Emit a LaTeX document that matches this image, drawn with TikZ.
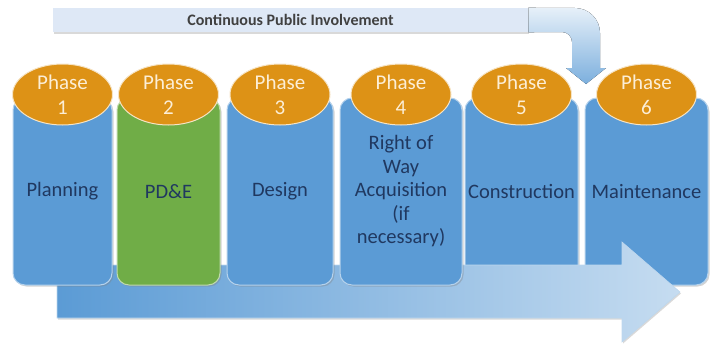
\documentclass[tikz,border=0pt]{standalone}
\usepackage{fontspec}
\setmainfont{Carlito}
\usepackage{tikz}
\usetikzlibrary{shapes.geometric,shadows}
\definecolor{colblue}{RGB}{91,155,213}
\definecolor{colgreen}{RGB}{112,173,71}
\definecolor{phaseorange}{RGB}{221,146,22}
\definecolor{labelblue}{RGB}{32,56,96}
\definecolor{paleblue}{RGB}{222,232,246}

\begin{document}
\begin{tikzpicture}[x=1pt,y=-1pt,semithick,
  col/.style={draw=white!55!colblue, line width=1pt, fill=colblue, rounded corners=12pt,
    minimum height=187pt, inner sep=0pt, align=center, text=labelblue,
    font=\fontsize{20.5}{23.5}\selectfont,
    drop shadow={shadow xshift=1.5pt,shadow yshift=-1.5pt,opacity=0.35}},
  phase/.style={ellipse, draw=white!75!phaseorange, line width=1pt, fill=phaseorange,
    minimum width=100pt, minimum height=61pt, inner sep=0pt, yshift=3pt, align=center,
    text={rgb,255:red,252;green,238;blue,214}, font=\fontsize{21}{25}\selectfont}]
  \useasboundingbox (0,0) rectangle (715,343);

  \node[fill=paleblue, minimum width=475pt, minimum height=24pt, inner sep=0pt,
    drop shadow={shadow xshift=1pt,shadow yshift=-1.5pt,opacity=0.3},
    font=\bfseries\fontsize{16}{19}\selectfont, text={rgb,255:red,64;green,64;blue,64}]
    (CPI) at (290.5,20) {Continuous Public Involvement};
  \fill[top color=white!85!colblue, bottom color=white!20!colblue]
    (CPI.north east) -- (575,8) arc[start angle=90, end angle=0, radius=25pt]
    -- (600,68) -- (606,68) -- (586,84) -- (566,68) -- (572,68) -- (572,42)
    arc[start angle=0, end angle=90, radius=10pt] -- (CPI.south east) -- cycle;

  \node[col, minimum width=113pt] (P5) at (521.5,191.5) {Construction};
  \node[col, minimum width=123pt] (P6) at (646.5,191.5) {Maintenance};

  \shade[left color=colblue, right color=white!65!colblue, draw=white!60!colblue,
    drop shadow={shadow xshift=1pt,shadow yshift=-1.5pt,opacity=0.3}]
    (57,265) -- (622,265) -- (622,242) -- (680,292) -- (622,342) -- (622,318) -- (57,318) -- cycle;

  \node[col, minimum width=99pt] (P1) at (62.5,191.5) {Planning};
  \node[col, minimum width=103pt, fill=colgreen, draw=white!55!colgreen] (P2) at (168.5,191.5) {PD\&E};
  \node[col, minimum width=106pt] (P3) at (280,191.5) {Design};
  \node[col, minimum width=122pt] (P4) at (401,191.5) {Right of\\Way\\Acquisition\\(if\\necessary)};

  \node[phase] (E1) at (P1.north) {Phase\\1};
  \node[phase] (E2) at (P2.north) {Phase\\2};
  \node[phase] (E3) at (P3.north) {Phase\\3};
  \node[phase] (E4) at (P4.north) {Phase\\4};
  \node[phase] (E5) at (P5.north) {Phase\\5};
  \node[phase] (E6) at (P6.north) {Phase\\6};
\end{tikzpicture}
\end{document}
